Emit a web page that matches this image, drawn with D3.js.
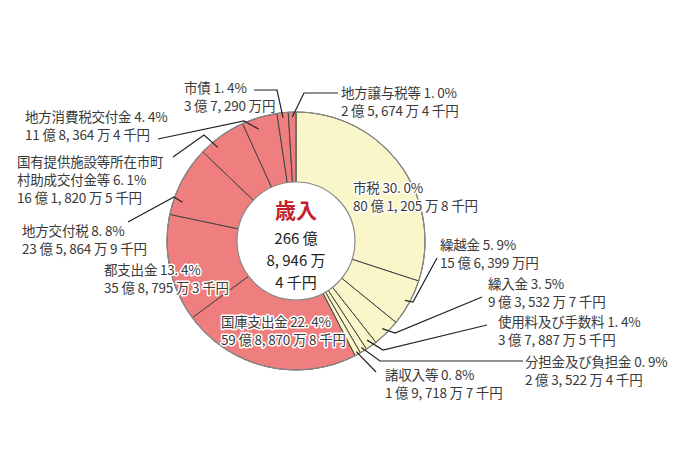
<!DOCTYPE html>
<html>
<head>
<meta charset="utf-8">
<script src="https://cdn.jsdelivr.net/npm/d3@7"></script>
<style>
  body { margin: 0; background: #fff; }
  text { font-family: "Noto Sans CJK JP", "Noto Sans", sans-serif; }
</style>
</head>
<body>
<div id="chart"></div>
<script>
/* DATA */
// order clockwise from 12 o'clock
const names = ["市税", "繰越金", "繰入金", "使用料及び手数料", "分担金及び負担金", "諸収入等",
  "国庫支出金", "都支出金", "地方交付税", "国有提供施設等所在市町村助成交付金等",
  "地方消費税交付金", "市債", "地方譲与税等"];
// amounts in 千円
const amounts = [8012058, 1563990, 935327, 378875, 235224, 197187,
  5988708, 3587953, 2358649, 1618205, 1183644, 372900, 256744];
const percents = ["30. 0%", "5. 9%", "3. 5%", "1. 4%", "0. 9%", "0. 8%",
  "22. 4%", "13. 4%", "8. 8%", "6. 1%", "4. 4%", "1. 4%", "1. 0%"];
const amountLabels = ["80 億 1, 205 万 8 千円", "15 億 6, 399 万円", "9 億 3, 532 万 7 千円",
  "3 億 7, 887 万 5 千円", "2 億 3, 522 万 4 千円", "1 億 9, 718 万 7 千円",
  "59 億 8, 870 万 8 千円", "35 億 8, 795 万 3 千円", "23 億 5, 864 万 9 千円",
  "16 億 1, 820 万 5 千円", "11 億 8, 364 万 4 千円", "3 億 7, 290 万円", "2 億 5, 674 万 4 千円"];
const groups = ["own", "own", "own", "own", "own", "own",
  "dep", "dep", "dep", "dep", "dep", "dep", "dep"];
const totalLines = ["266 億", "8, 946 万", "4 千円"];

/* LAYOUT */
const width = 690, height = 460,
  cx = 296, cy = 241,
  outerR = 129, innerR = 59,
  lineH = 18;

const colors = { own: "#f9f7c9", dep: "#ef7f7f" };

// label placement: x, first baseline, title lines, halo; leader: points to an elbow, then to the slice
const layout = [
  { x: 353, y: 193, title: ["市税"], halo: true },
  { x: 440, y: 250, title: ["繰越金"], lead: [[437, 258], [413, 302]], r: 124 },
  { x: 488, y: 289, title: ["繰入金"], lead: [[482, 297], [395, 333]], r: 123 },
  { x: 498, y: 327, title: ["使用料及び手数料"], lead: [[487, 325], [383, 350]], r: 122 },
  { x: 525, y: 367, title: ["分担金及び負担金"], lead: [[523, 361], [380, 361]], r: 125 },
  { x: 385, y: 380, title: ["諸収入等"], lead: [[376, 372]], r: 126 },
  { x: 221, y: 327, title: ["国庫支出金"], halo: true },
  { x: 104, y: 275, title: ["都支出金"], halo: true },
  { x: 22, y: 236, title: ["地方交付税"], lead: [[128, 222], [174, 197]], r: 120, off: -9 },
  { x: 17, y: 167, title: ["国有提供施設等所在市町", "村助成交付金等"], lead: [[173, 157], [204, 135]], r: 122, off: -4.5 },
  { x: 25, y: 122, title: ["地方消費税交付金"], lead: [[158, 139], [244, 121]], r: 118, off: -2 },
  { x: 184, y: 93, title: ["市債"], lead: [[254, 90], [277, 90]], r: 124 },
  { x: 341, y: 98, title: ["地方譲与税等"], lead: [[338, 93], [304, 93]], r: 124 }
];

const data = names.map((d, i) => ({
  name: d, value: amounts[i], pct: percents[i], amt: amountLabels[i], group: groups[i], lay: layout[i]
}));

const svg = d3.select("#chart").append("svg")
  .attr("width", width)
  .attr("height", height);

const pie = d3.pie().sort(null).value(d => d.value);
const arcs = pie(data);

const arc = d3.arc().innerRadius(0).outerRadius(outerR);

const g = svg.append("g").attr("transform", `translate(${cx},${cy})`);

// slices
g.selectAll("path.slice")
  .data(arcs)
  .join("path")
  .attr("class", "slice")
  .attr("d", arc)
  .attr("fill", d => colors[d.data.group])
  .attr("stroke", "#444")
  .attr("stroke-width", 1);

// outline
g.append("circle")
  .attr("r", outerR)
  .attr("fill", "none")
  .attr("stroke", "#8a8a8a")
  .attr("stroke-width", 1.2);

// hole
g.append("circle")
  .attr("r", innerR)
  .attr("fill", "#fff")
  .attr("stroke", "#8a8a8a")
  .attr("stroke-width", 1.2);

// leader lines
const line = d3.line();
svg.selectAll("path.leader")
  .data(arcs.filter(d => d.data.lay.lead))
  .join("path")
  .attr("class", "leader")
  .attr("fill", "none")
  .attr("stroke", "#222")
  .attr("stroke-width", 1.2)
  .attr("d", d => {
    const L = d.data.lay;
    const a = (d.startAngle + d.endAngle) / 2 + (L.off || 0) * Math.PI / 180;
    const end = [cx + L.r * Math.sin(a), cy - L.r * Math.cos(a)];
    return line([...L.lead, end]);
  });

// labels
const labels = svg.selectAll("text.label")
  .data(data)
  .join("text")
  .attr("class", "label")
  .attr("x", d => d.lay.x)
  .attr("y", d => d.lay.y)
  .attr("font-size", 13.5)
  .attr("letter-spacing", -0.2)
  .attr("fill", "#3a3a3a")
  .attr("stroke", d => d.lay.halo ? "#fff" : "none")
  .attr("stroke-width", 3)
  .attr("stroke-linejoin", "round")
  .attr("paint-order", "stroke");

labels.each(function (d) {
  const t = d3.select(this);
  const rows = d.lay.title.slice();
  rows[rows.length - 1] = rows[rows.length - 1] + " " + d.pct;
  rows.push(d.amt);
  rows.forEach((r, i) => {
    t.append("tspan")
      .attr("x", d.lay.x)
      .attr("dy", i === 0 ? 0 : lineH)
      .text(r);
  });
});

// center total
g.append("text")
  .attr("text-anchor", "middle")
  .attr("y", -23)
  .attr("font-size", 21)
  .attr("font-weight", "bold")
  .attr("fill", "#c41f2d")
  .text("歳入");

g.selectAll("text.total")
  .data(totalLines)
  .join("text")
  .attr("class", "total")
  .attr("text-anchor", "middle")
  .attr("y", (d, i) => 3 + i * 22)
  .attr("font-size", 15)
  .attr("fill", "#222")
  .text(d => d);
</script>
</body>
</html>
